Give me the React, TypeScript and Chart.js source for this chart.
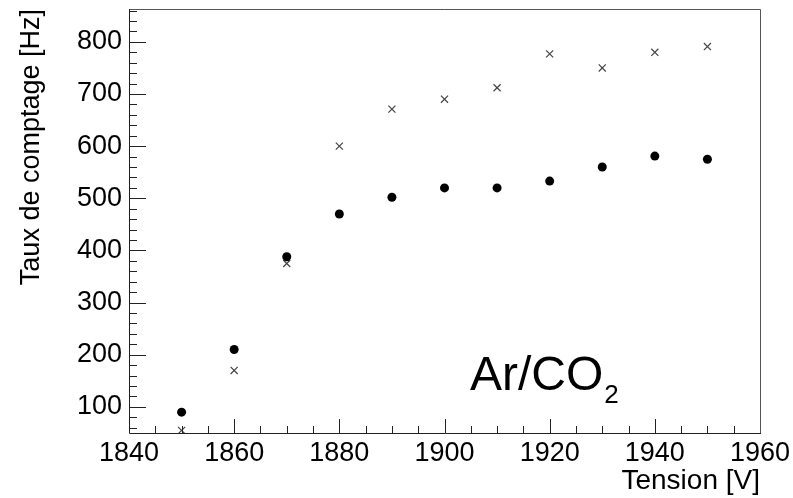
import React, { useEffect, useRef } from "react";
import { Chart, registerables } from "chart.js";

Chart.register(...registerables);

const tensions = [1850, 1860, 1870, 1880, 1890, 1900, 1910, 1920, 1930, 1940, 1950];
const dotRates = [90, 210, 388, 470, 502, 520, 520, 533, 560, 581, 575];
const crossRates = [55, 170, 375, 600, 671, 690, 712, 777, 750, 780, 791];
const yTickValues = [100, 200, 300, 400, 500, 600, 700, 800];
const xTitle = "Tension [V]";
const yTitle = "Taux de comptage [Hz]";
const gasMain = "Ar/CO";
const gasSub = "2";

const FONT = "'Liberation Sans', Arial, Helvetica, sans-serif";

const framePlugin = {
  id: "rootFrame",
  afterDraw(chart: any) {
    const { ctx, chartArea: a, scales } = chart;
    const xs = scales.x;
    const ys = scales.y;
    ctx.save();
    // ticks (inside)
    ctx.strokeStyle = "#222";
    ctx.lineWidth = 1;
    ctx.beginPath();
    for (let v = xs.min; v <= xs.max + 0.001; v += 5) {
      const px = Math.round(xs.getPixelForValue(v)) + 0.5;
      const len = Math.abs(v % 20) < 0.001 ? 14 : 7;
      ctx.moveTo(px, a.bottom);
      ctx.lineTo(px, a.bottom - len);
    }
    const startY = Math.ceil(ys.min / 20) * 20;
    for (let v = startY; v <= ys.max; v += 20) {
      const py = Math.round(ys.getPixelForValue(v)) + 0.5;
      const len = v % 100 === 0 ? 17 : 8;
      ctx.moveTo(a.left, py);
      ctx.lineTo(a.left + len, py);
    }
    ctx.stroke();
    // frame
    ctx.strokeStyle = "#555";
    ctx.beginPath();
    ctx.moveTo(a.left, a.top + 0.5);
    ctx.lineTo(a.right + 0.5, a.top + 0.5);
    ctx.lineTo(a.right + 0.5, a.bottom);
    ctx.stroke();
    ctx.strokeStyle = "#222";
    ctx.beginPath();
    ctx.moveTo(a.left + 0.5, a.top);
    ctx.lineTo(a.left + 0.5, a.bottom + 0.5);
    ctx.lineTo(a.right + 1, a.bottom + 0.5);
    ctx.stroke();
    // gas label
    ctx.fillStyle = "#000";
    ctx.textBaseline = "alphabetic";
    ctx.textAlign = "left";
    ctx.font = `48px ${FONT}`;
    const tx = a.left + 341;
    const ty = a.top + 381;
    ctx.fillText(gasMain, tx, ty);
    const w = ctx.measureText(gasMain).width;
    ctx.font = `26px ${FONT}`;
    ctx.fillText(gasSub, tx + w + 1, ty + 13);
    ctx.restore();
  },
};

export default function App() {
  const ref = useRef<HTMLCanvasElement>(null);
  useEffect(() => {
    if (!ref.current) return;
    const chart = new Chart(ref.current, {
      type: "scatter",
      data: {
        datasets: [
          {
            label: "dots",
            data: tensions.map((t, i) => ({ x: t, y: dotRates[i] })),
            pointStyle: "circle",
            pointRadius: 4.5,
            backgroundColor: "#000",
            borderColor: "#000",
            borderWidth: 0,
          },
          {
            label: "crosses",
            data: tensions.map((t, i) => ({ x: t, y: crossRates[i] })),
            pointStyle: "crossRot",
            pointRadius: 5,
            borderColor: "#444",
            backgroundColor: "#444",
            borderWidth: 1.2,
          },
        ],
      },
      options: {
        animation: false,
        responsive: false,
        maintainAspectRatio: false,
        layout: { padding: { left: 0, right: 33, top: 9, bottom: 0 } },
        plugins: { legend: { display: false }, tooltip: { enabled: false } },
        scales: {
          x: {
            type: "linear",
            min: 1840,
            max: 1960,
            grid: { display: false, drawTicks: false },
            border: { display: false },
            ticks: {
              stepSize: 20,
              padding: 4,
              color: "#000",
              font: { family: FONT, size: 27 },
              maxRotation: 0,
              autoSkip: false,
              callback: (v: any) => String(v),
            },
            title: {
              display: true,
              text: xTitle,
              align: "end",
              color: "#000",
              font: { family: FONT, size: 28 },
              padding: { top: 0, bottom: 0 },
            },
            afterFit: (s: any) => {
              s.height = 65;
              s.paddingLeft = 0;
              s.paddingRight = 0;
            },
          },
          y: {
            type: "linear",
            min: 50,
            max: 863,
            grid: { display: false, drawTicks: false },
            border: { display: false },
            afterBuildTicks: (s: any) => {
              s.ticks = yTickValues.map((v) => ({ value: v }));
            },
            ticks: {
              padding: 7,
              color: "#000",
              font: { family: FONT, size: 27 },
              autoSkip: false,
              callback: (v: any) => String(v),
            },
            title: {
              display: true,
              text: yTitle,
              align: "end",
              color: "#000",
              font: { family: FONT, size: 27 },
              padding: { top: 15, bottom: 0 },
            },
            afterFit: (s: any) => {
              s.width = 129;
              s.paddingTop = 0;
              s.paddingBottom = 0;
            },
          },
        },
      },
      plugins: [framePlugin],
    });
    return () => chart.destroy();
  }, []);
  return (
    <div style={{ position: "fixed", left: 0, top: 0, width: 793, height: 498, background: "#fff" }}>
      <canvas ref={ref} width={793} height={498} style={{ width: 793, height: 498 }} />
    </div>
  );
}
